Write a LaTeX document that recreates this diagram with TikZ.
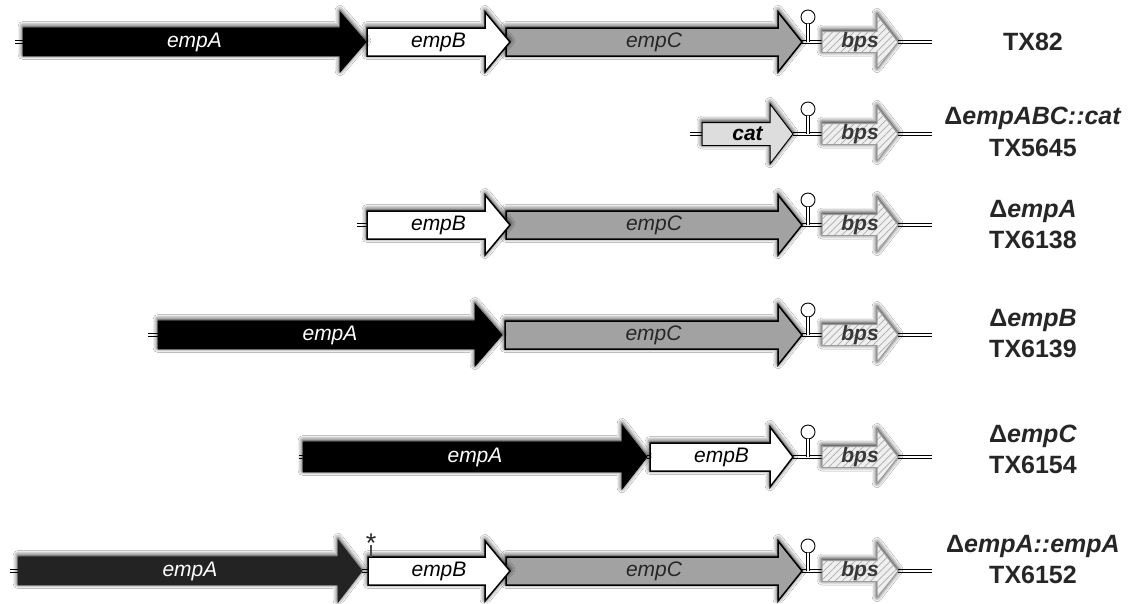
\documentclass[tikz,border=0pt]{standalone}
\usepackage{fontspec}
\setmainfont{Liberation Sans}
\usetikzlibrary{patterns.meta,shadows.blur}
\definecolor{cgray}{HTML}{A2A2A2}
\definecolor{bpsfill}{HTML}{EFEFEF}
\definecolor{bpsline}{HTML}{ABABAB}
\definecolor{bpsedge}{HTML}{9C9C9C}
\definecolor{catfill}{HTML}{E2E2E2}
\definecolor{darkA}{HTML}{232323}
\tikzset{
  shd/.style={blur shadow={shadow xshift=0pt,shadow yshift=1.5pt,shadow blur radius=5pt,shadow opacity=100}},
  geneA/.style={shd,fill=black,draw=black,line width=0.8pt},
  geneAd/.style={shd,fill=darkA,draw=darkA,line width=0.8pt},
  geneB/.style={shd,fill=white,draw=black,line width=1.5pt,line join=miter},
  geneC/.style={shd,fill=cgray,draw=black,line width=1.5pt,line join=miter},
  genebps/.style={shd,preaction={fill=bpsfill},pattern={Lines[angle=45,distance=5pt,line width=0.7pt]},pattern color=bpsline,draw=bpsedge,line width=1pt},
  genecat/.style={shd,preaction={fill=catfill},pattern={Dots[distance=2pt,radius=0.45pt]},pattern color=gray!70,draw=black,line width=1pt},
  glab/.style={font=\fontsize{21}{21}\selectfont\itshape,inner sep=0pt},
  dna/.style={draw=black,line width=0.9pt,double=white,double distance=2.4pt},
  stalk/.style={draw=black,line width=1pt,double=white,double distance=2.6pt},
  loop/.style={circle,draw=black,fill=white,line width=0.9pt,minimum size=14pt,inner sep=0pt},
  lab/.style={font=\fontsize{25}{25}\selectfont\bfseries,text=black!85,inner sep=0pt},
}
% #1 name, #2 tail x, #3 head start x, #4 tip x, #5 y, #6 body half, #7 head half, #8 style, #9 label
\newcommand\gene[9]{%
  \draw[#8] (#2,#5-#6) -- (#3,#5-#6) -- (#3,#5-#7) -- (#4,#5) -- (#3,#5+#7) -- (#3,#5+#6) -- (#2,#5+#6) -- cycle;
  \coordinate (#1-tail) at (#2,#5);
  \coordinate (#1-tip) at (#4,#5);
  \node[glab] (#1) at ({(#2+#4)/2},#5) {#9};
}
% #1 row prefix, #2 y
\newcommand\termbps[2]{%
  \coordinate (#1-hp) at (808,#2);
  \coordinate (#1-end) at (932,#2);
  \coordinate (#1-bpsin) at (822,#2);
  \coordinate (#1-bpsout) at (898,#2);
  \draw[dna] (#1-last) -- (#1-bpsin);
  \draw[dna] (#1-bpsout) -- (#1-end);
  \node[loop] (#1-loop) at (808,#2-25) {};
  \draw[stalk] (#1-loop.south) -- (#1-hp);
  \gene{#1-bps}{822}{877}{898}{#2}{10.5}{27}{genebps}{\textbf{\textcolor{black!78}{bps}}}
}
\begin{document}
\begin{tikzpicture}[x=1pt,y=-1pt]
\useasboundingbox[fill=white] (0,0) rectangle (1134,603);
% ---------- Row 1: TX82
\coordinate (r1-s) at (15,42);
\coordinate (r1-s2) at (23,42);
\draw[dna] (r1-s) -- (r1-s2);
\coordinate (r1-last) at (802,42);
\termbps{r1}{42}
\gene{r1-C}{506}{778}{802}{42}{14}{30}{geneC}{\textcolor{black!85}{empC}}
\gene{r1-B}{367}{485}{510}{42}{14}{30}{geneB}{empB}
\gene{r1-A}{23}{340}{366}{42}{14}{30}{geneA}{\textcolor{white}{empA}}
\node[lab] (r1-lab) at (1033,42) {TX82};
% ---------- Row 2: TX5645
\coordinate (r2-s) at (690,134);
\coordinate (r2-s2) at (702,134);
\draw[dna] (r2-s) -- (r2-s2);
\coordinate (r2-last) at (793,134);
\termbps{r2}{134}
\gene{r2-cat}{702}{770}{793}{134}{11.5}{30}{genecat}{\textbf{cat}}
\node[lab] (r2-lab1) at (1033,118) {Δ\textit{empABC::cat}};
\node[lab] (r2-lab2) at (1033,148) {TX5645};
% ---------- Row 3: TX6138
\coordinate (r3-s) at (357,225);
\coordinate (r3-s2) at (367,225);
\draw[dna] (r3-s) -- (r3-s2);
\coordinate (r3-last) at (802,225);
\termbps{r3}{225}
\gene{r3-C}{506}{778}{802}{225}{14}{30}{geneC}{\textcolor{black!85}{empC}}
\gene{r3-B}{367}{485}{510}{225}{14}{30}{geneB}{empB}
\node[lab] (r3-lab1) at (1033,211) {Δ\textit{empA}};
\node[lab] (r3-lab2) at (1033,240) {TX6138};
% ---------- Row 4: TX6139
\coordinate (r4-s) at (148,335);
\coordinate (r4-s2) at (158,335);
\draw[dna] (r4-s) -- (r4-s2);
\coordinate (r4-last) at (802,335);
\termbps{r4}{335}
\gene{r4-C}{505}{778}{802}{335}{14}{30}{geneC}{\textcolor{black!85}{empC}}
\gene{r4-A}{158}{475}{502}{335}{14}{31}{geneA}{\textcolor{white}{empA}}
\node[lab] (r4-lab1) at (1033,320) {Δ\textit{empB}};
\node[lab] (r4-lab2) at (1033,349) {TX6139};
% ---------- Row 5: TX6154
\coordinate (r5-s) at (299,457);
\coordinate (r5-s2) at (303,457);
\draw[dna] (r5-s) -- (r5-s2);
\coordinate (r5-last) at (793,457);
\termbps{r5}{457}
\coordinate (r5-j1) at (647,457);
\coordinate (r5-j2) at (650,457);
\draw[dna] (r5-j1) -- (r5-j2);
\gene{r5-B}{650}{770}{793}{457}{14}{30}{geneB}{empB}
\gene{r5-A}{303}{622}{647}{457}{15}{32}{geneA}{\textcolor{white}{empA}}
\node[lab] (r5-lab1) at (1033,436) {Δ\textit{empC}};
\node[lab] (r5-lab2) at (1033,465) {TX6154};
% ---------- Row 6: TX6152
\coordinate (r6-s) at (10,571);
\coordinate (r6-s2) at (18,571);
\draw[dna] (r6-s) -- (r6-s2);
\coordinate (r6-last) at (802,571);
\termbps{r6}{571}
\coordinate (r6-j1) at (362,571);
\coordinate (r6-j2) at (368,571);
\draw[dna] (r6-j1) -- (r6-j2);
\gene{r6-C}{506}{778}{802}{571}{14}{30}{geneC}{\textcolor{black!85}{empC}}
\gene{r6-B}{368}{485}{510}{571}{14}{30}{geneB}{empB}
\gene{r6-A}{18}{338}{362}{571}{14}{31}{geneAd}{\textcolor{white}{empA}}
\node[font=\fontsize{27}{27}\selectfont,inner sep=0pt,text=black!85] (r6-star) at (371,543) {*};
\coordinate (r6-mk0) at (371,545);
\coordinate (r6-mk) at (371,557);
\draw[line width=2.2pt,draw=black!70] (r6-mk0) -- (r6-mk);
\node[lab] (r6-lab1) at (1033,546) {Δ\textit{empA::empA}};
\node[lab] (r6-lab2) at (1033,575) {TX6152};
\end{tikzpicture}
\end{document}
